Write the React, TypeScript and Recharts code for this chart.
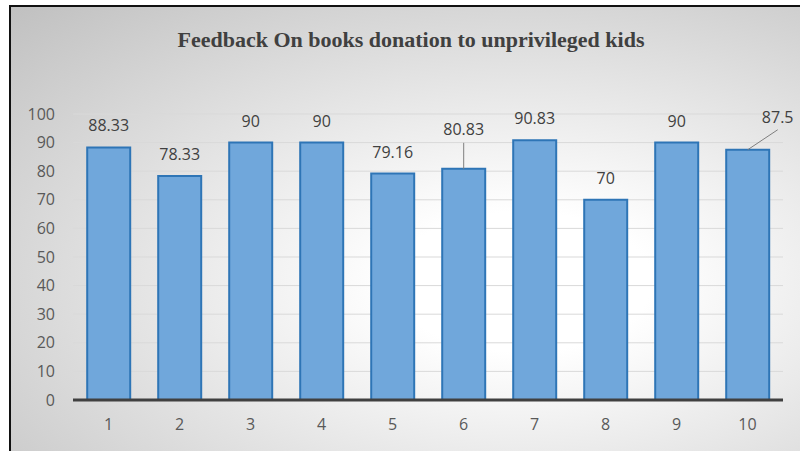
import React from "react";
import { BarChart, Bar, XAxis, YAxis, CartesianGrid, LabelList } from "recharts";

const categories = ["1", "2", "3", "4", "5", "6", "7", "8", "9", "10"];
const scores = [88.33, 78.33, 90, 90, 79.16, 80.83, 90.83, 70, 90, 87.5];
const yTicks = [0, 10, 20, 30, 40, 50, 60, 70, 80, 90, 100];
const title = "Feedback On books donation to unprivileged kids";

const data = categories.map((c, i) => ({ name: c, value: scores[i] }));

const FONT = "'Open Sans', 'Noto Sans', sans-serif";
const TEXT = "#404040";
const FS = 16;

const renderLabel = (props: any) => {
  const { x, y, width, value, index } = props;
  const cx = Number(x) + Number(width) / 2;
  const top = Number(y);
  if (index === 5) {
    return (
      <g>
        <line x1={cx} y1={top - 26} x2={cx} y2={top} stroke="#7f7f7f" strokeWidth={1} />
        <text x={cx} y={top - 40} textAnchor="middle" dominantBaseline="central" fill={TEXT} fontSize={FS} fontFamily={FONT}>
          {value}
        </text>
      </g>
    );
  }
  if (index === 9) {
    return (
      <g>
        <line x1={cx} y1={top} x2={cx + 30} y2={top - 20} stroke="#7f7f7f" strokeWidth={1} />
        <text x={cx + 30} y={top - 33} textAnchor="middle" dominantBaseline="central" fill={TEXT} fontSize={FS} fontFamily={FONT}>
          {value}
        </text>
      </g>
    );
  }
  return (
    <text x={cx} y={top - 22} textAnchor="middle" dominantBaseline="central" fill={TEXT} fontSize={FS} fontFamily={FONT}>
      {value}
    </text>
  );
};

export default function App() {
  return (
    <div style={{ position: "absolute", left: 0, top: 0, width: 800, height: 451, overflow: "hidden", background: "#fff" }}>
      <div
        style={{
          position: "absolute",
          left: 9,
          top: 5,
          width: 800,
          height: 460,
          borderLeft: "2px solid #111",
          borderTop: "2px solid #111",
          boxSizing: "border-box",
          background: "radial-gradient(ellipse farthest-corner at 64% 60%, #ffffff 0%, #ffffff 18%, #c0c0c0 100%)",
        }}
      />
      <div
        style={{
          position: "absolute",
          left: 0,
          top: 27,
          width: 822,
          textAlign: "center",
          fontFamily: "'Liberation Serif', 'Times New Roman', serif",
          fontWeight: "bold",
          fontSize: 22,
          lineHeight: "26px",
          color: TEXT,
        }}
      >
        {title}
      </div>
      <div style={{ position: "absolute", left: 0, top: 0 }}>
        <BarChart
          width={800}
          height={451}
          data={data}
          margin={{ top: 114, right: 17, bottom: 21, left: 13 }}
          barCategoryGap="20%"
        >
          <CartesianGrid vertical={false} stroke="#d9d9d9" strokeWidth={1} />
          <YAxis
            width={60}
            domain={[0, 100]}
            ticks={yTicks}
            axisLine={false}
            tickLine={false}
            tickSize={0}
            tickMargin={18}
            interval={0}
            tick={{ fill: "#595959", fontSize: FS, fontFamily: FONT }}
          />
          <XAxis
            dataKey="name"
            height={30}
            axisLine={{ stroke: "#404040", strokeWidth: 3 }}
            tickLine={false}
            tickSize={0}
            tickMargin={19}
            interval={0}
            tick={{ fill: "#595959", fontSize: FS, fontFamily: FONT }}
          />
          <Bar dataKey="value" fill="#70a7db" stroke="#2e75b6" strokeWidth={2} isAnimationActive={false}>
            <LabelList dataKey="value" content={renderLabel} />
          </Bar>
        </BarChart>
      </div>
    </div>
  );
}
